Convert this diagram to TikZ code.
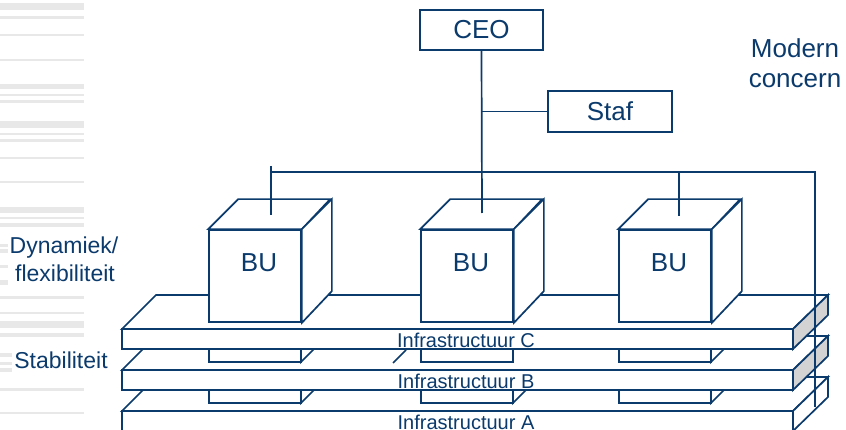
\documentclass[tikz,border=0pt]{standalone}
\usepackage{fontspec}
\setmainfont{Liberation Sans}
\usepackage{tikz}
\usetikzlibrary{arrows.meta, positioning, calc}
\definecolor{concernblue}{HTML}{0B3A6C}
\definecolor{stripegray}{HTML}{E8E8E8}
\definecolor{sidegray}{HTML}{D3D3D3}

\begin{document}
\begin{tikzpicture}[x=1pt, y=-1pt, line width=1.7pt, draw=concernblue, text=concernblue,
    orgbox/.style={draw, fill=white, inner sep=0pt, font=\fontsize{26}{30}\selectfont},
    bufront/.style={draw, fill=white, inner sep=0pt, minimum width=92pt, minimum height=92pt},
    lbl/.style={inner sep=0pt, font=\fontsize{26}{30}\selectfont},
    side/.style={inner sep=0pt, font=\fontsize{23}{28}\selectfont},
    infra/.style={inner sep=0pt, font=\fontsize{20}{24}\selectfont}]
    \useasboundingbox (0,0) rectangle (846,430);

    % ── stripes on the left ───────────────────────────────────────────
    \foreach \ya/\yb/\xe in {3/10/84, 16/19/84, 34/36/84, 59/61/84, 84/89/84, 94/96/84,
        100/103/84, 121/128/84, 133/135/84, 139/142/84, 157/159/84, 181/183/84,
        207/213/84, 217/219/84, 223/227/84, 244/247/8, 249/253/8, 265/268/8, 280/285/8,
        296/299/84, 312/314/84, 321/328/84, 333/337/84, 353/357/12, 362/365/12,
        368/372/12, 388/391/84, 412/414/84}{
        \fill[stripegray] (0,\ya) rectangle (\xe,\yb);
    }

    % ── slabs, back to front, with the legs standing behind each ──────
    \foreach \t/\l/\s/\b in {411/A/white/0, 370/B/sidegray/403, 329/C/sidegray/362}{
        % legs on the slab below
        \ifnum\b>0
            \foreach \x in {209, 421, 619}{
                \pgfmathtruncatemacro{\skipside}{(\b==362 && \x==421) ? 1 : 0}
                \ifnum\skipside=0
                    \filldraw[fill=white] (\x+92,\b) -- ++(30,-30) -- ++(0,-28) -- ++(-30,30) -- cycle;
                \fi
                \filldraw[fill=white] (\x,\b) rectangle ++(92,-28);
            }
        \fi
        \filldraw[fill=white] (122,\t) -- ++(34,-34) -- (828,\t-34) -- (793,\t) -- cycle;
        \filldraw[fill=white] (122,\t) rectangle (793,\t+20);
        \filldraw[fill=\s] (793,\t) -- (828,\t-34) -- (828,\t-14) -- (793,\t+20) -- cycle;
        \node[infra, anchor=base] (infra\l) at (466,\t+18) {Infrastructuur \l};
    }
    \draw (393,363) -- (406,350);

    % ── business units ────────────────────────────────────────────────
    \foreach \n/\cx in {1/255, 2/467, 3/665}{
        \node[bufront] (bu\n) at (\cx,276) {};
        \filldraw[fill=white] (bu\n.north west) -- ++(30,-30) -- ++(92,0) -- (bu\n.north east) -- cycle;
        \filldraw[fill=white] (bu\n.north east) -- ++(30,-30) -- ++(0,92) -- (bu\n.south east) -- cycle;
        \node[lbl] (bu\n t) at ([xshift=4pt, yshift=13.5pt]bu\n.center) {BU};
    }

    % ── top of the organisation ───────────────────────────────────────
    \node[orgbox, minimum width=123pt, minimum height=40pt] (ceo) at (481.5,30) {CEO};
    \node[orgbox, minimum width=124pt, minimum height=41pt] (staf) at (610,111.5) {Staf};

    \coordinate (tip1) at (271,215);
    \coordinate (stub1) at (271,166);
    \coordinate (tip2) at (482,213);
    \coordinate (tip3) at (679,216);
    \coordinate (bus) at (815,172);
    \coordinate (foot) at (815,407);

    \draw (ceo.south) -- (tip2);
    \draw (ceo.south |- staf.west) -- (staf.west);
    \draw (stub1) -- (tip1);
    \draw (tip1 |- bus) -- (bus) -- (foot);
    \draw (tip3 |- bus) -- (tip3);

    % ── side texts ────────────────────────────────────────────────────
    \node[lbl, anchor=base] (modern) at (795,58) {Modern};
    \node[lbl, anchor=base] (concern) at (795,88) {concern};
    \node[side, anchor=base] (dyn) at (64,254) {Dynamiek/};
    \node[side, anchor=base] (flex) at (65,282) {flexibiliteit};
    \node[side, anchor=base] (stab) at (61,368) {Stabiliteit};
\end{tikzpicture}
\end{document}
